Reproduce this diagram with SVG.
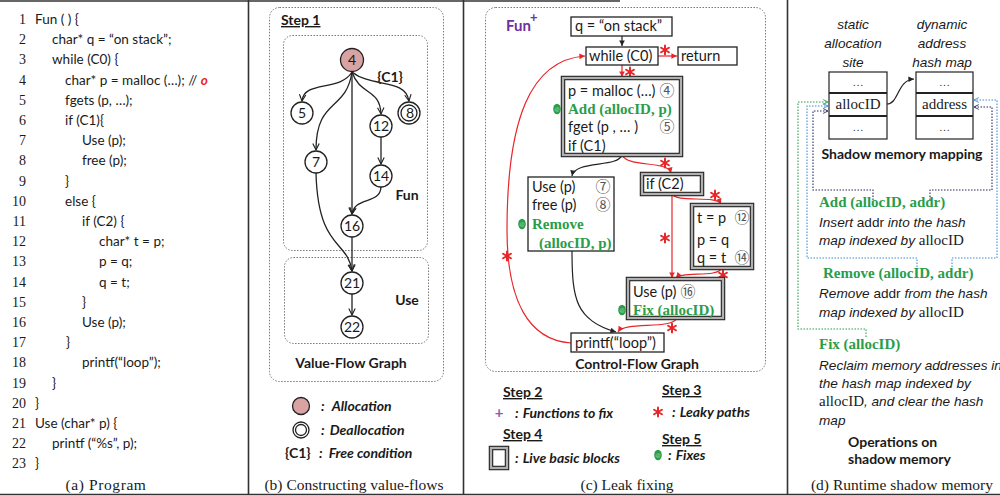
<svg xmlns="http://www.w3.org/2000/svg" width="1000" height="496" viewBox="0 0 1000 496">
  <style>
    .code { font-family: Lato, "Liberation Sans", sans-serif; font-size: 13.5px; fill: #1a1a1a; }
    .num { font-family: "Liberation Serif", serif; font-size: 14px; fill: #1a1a1a; text-anchor: end; }
    .cap { font-family: "Liberation Serif", serif; font-size: 15.5px; fill: #1a1a1a; text-anchor: middle; }
    .b { font-family: Lato, "Liberation Sans", sans-serif; font-size: 14px; font-weight: bold; fill: #1a1a1a; }
    .bi { font-family: Lato, "Liberation Sans", sans-serif; font-size: 14px; font-weight: bold; font-style: italic; fill: #1a1a1a; }
    .step { text-decoration: underline; }
    .t { font-family: Lato, "Liberation Sans", sans-serif; font-size: 14.5px; fill: #1a1a1a; }
    .it { font-family: "Liberation Sans", Arial, sans-serif; font-size: 13.6px; font-style: italic; fill: #1a1a1a; }
    .up { font-style: normal; }
    .ser { font-family: "Liberation Serif", serif; font-style: normal; font-size: 15px; }
    .g { font-family: "Liberation Serif", serif; font-size: 15px; font-weight: bold; fill: #2a9d4a; }
    .cn { font-family: "Liberation Serif", "Noto Sans CJK SC", serif; font-size: 15px; fill: #555; text-anchor: middle; }
    .nl { font-family: Lato, "Liberation Sans", sans-serif; font-size: 14px; fill: #1a1a1a; text-anchor: middle; }
    .node { fill: #fff; stroke: #222; stroke-width: 1.3; }
    .alloc { fill: #d9a3a3; }
    .vf { fill: none; stroke: #222; stroke-width: 1.3; marker-end: url(#vee); }
    .frame { stroke: #333; stroke-width: 1.6; fill: none; }
    .dot { fill: none; stroke: #777; stroke-width: 1; stroke-dasharray: 1.5 1.5; }
    .box { fill: #fff; stroke: #222; stroke-width: 1.3; }
    .live { fill: #fff; stroke: #222; stroke-width: 4.5; }
    .live2 { fill: none; stroke: #b0b0b0; stroke-width: 2.3; }
    .cf { fill: none; stroke: #222; stroke-width: 1.2; marker-end: url(#blk); }
    .lk { fill: none; stroke: #e8262a; stroke-width: 1.2; marker-end: url(#red); }
    .tbl { fill: #fff; stroke: #222; stroke-width: 1.2; }
    .rule { stroke: #222; stroke-width: 2; }
    .dots { font-family: "Liberation Serif", serif; font-size: 11px; fill: #333; text-anchor: middle; }
    .op { fill: none; stroke-width: 1.1; stroke-dasharray: 1.5 1.5; }
  </style>
  <defs>
    <marker id="vee" viewBox="0 0 10 10" refX="9" refY="5" markerWidth="8" markerHeight="8" markerUnits="userSpaceOnUse" orient="auto">
      <path d="M1,1 L9,5 L1,9" fill="none" stroke="#222" stroke-width="1.4"/>
    </marker>
    <marker id="blk" viewBox="0 0 10 10" refX="9" refY="5" markerWidth="7" markerHeight="7" markerUnits="userSpaceOnUse" orient="auto">
      <path d="M1,1 L9,5 L1,9 Z" fill="#222"/>
    </marker>
    <marker id="red" viewBox="0 0 10 10" refX="9" refY="5" markerWidth="7" markerHeight="7" markerUnits="userSpaceOnUse" orient="auto">
      <path d="M1,1 L9,5 L1,9 Z" fill="#e8262a"/>
    </marker>
    <marker id="navy" viewBox="0 0 10 10" refX="9" refY="5" markerWidth="6" markerHeight="6" markerUnits="userSpaceOnUse" orient="auto">
      <path d="M1,1 L9,5 L1,9" fill="none" stroke="#2b2b5e" stroke-width="1.5"/>
    </marker>
    <marker id="blue" viewBox="0 0 10 10" refX="9" refY="5" markerWidth="6" markerHeight="6" markerUnits="userSpaceOnUse" orient="auto">
      <path d="M1,1 L9,5 L1,9" fill="none" stroke="#3a8fd8" stroke-width="1.5"/>
    </marker>
    <marker id="green" viewBox="0 0 10 10" refX="9" refY="5" markerWidth="6" markerHeight="6" markerUnits="userSpaceOnUse" orient="auto">
      <path d="M1,1 L9,5 L1,9" fill="none" stroke="#2a9d4a" stroke-width="1.5"/>
    </marker>
    <!-- leaky-path star marker -->
    <g id="star" stroke="#e8262a" stroke-width="2" stroke-linecap="round">
      <line x1="0" y1="-4.5" x2="0" y2="4.5"/>
      <line x1="-3.9" y1="-2.25" x2="3.9" y2="2.25"/>
      <line x1="-3.9" y1="2.25" x2="3.9" y2="-2.25"/>
    </g>
    <!-- fix-site badge -->
    <g id="fix">
      <ellipse cx="0" cy="0" rx="3.8" ry="5.2" fill="#2a9d4a"/>
      <text x="0" y="2.3" font-family="Lato, sans-serif" font-size="6.5" fill="#9fdcaf" text-anchor="middle">@</text>
    </g>
  </defs>

  <!-- panel frame -->
  <g id="frame">
    <line class="frame" x1="0" y1="1" x2="620" y2="1"/>
    <line class="frame" x1="0" y1="494.5" x2="1000" y2="494.5"/>
    <line class="frame" x1="248.5" y1="0" x2="248.5" y2="495"/>
    <line class="frame" x1="463.5" y1="0" x2="463.5" y2="495"/>
    <line class="frame" x1="787.5" y1="0" x2="787.5" y2="495"/>
  </g>

  <!-- (a) program listing -->
  <g id="program">
    <g id="line-numbers">
      <text class="num" x="26" y="24">1</text>
      <text class="num" x="26" y="44.2">2</text>
      <text class="num" x="26" y="64.4">3</text>
      <text class="num" x="26" y="84.6">4</text>
      <text class="num" x="26" y="104.8">5</text>
      <text class="num" x="26" y="125">6</text>
      <text class="num" x="26" y="145.2">7</text>
      <text class="num" x="26" y="165.4">8</text>
      <text class="num" x="26" y="185.6">9</text>
      <text class="num" x="26" y="205.8">10</text>
      <text class="num" x="26" y="226">11</text>
      <text class="num" x="26" y="246.2">12</text>
      <text class="num" x="26" y="266.4">13</text>
      <text class="num" x="26" y="286.6">14</text>
      <text class="num" x="26" y="306.8">15</text>
      <text class="num" x="26" y="327">16</text>
      <text class="num" x="26" y="347.2">17</text>
      <text class="num" x="26" y="367.4">18</text>
      <text class="num" x="26" y="387.6">19</text>
      <text class="num" x="26" y="407.8">20</text>
      <text class="num" x="26" y="428">21</text>
      <text class="num" x="26" y="448.2">22</text>
      <text class="num" x="26" y="468.4">23</text>
    </g>
    <g id="code">
      <text class="code" x="35" y="24">Fun ( ) {</text>
      <text class="code" x="52" y="44.2">char* q = “on stack”;</text>
      <text class="code" x="52" y="64.4">while (C0) {</text>
      <text class="code" x="65" y="84.6">char* p = malloc (…); // <tspan fill="#e8262a" font-weight="bold" font-style="italic">o</tspan></text>
      <text class="code" x="65" y="104.8">fgets (p, …);</text>
      <text class="code" x="65" y="125">if (C1){</text>
      <text class="code" x="82" y="145.2">Use (p);</text>
      <text class="code" x="82" y="165.4">free (p);</text>
      <text class="code" x="65" y="185.6">}</text>
      <text class="code" x="65" y="205.8">else {</text>
      <text class="code" x="82" y="226">if (C2) {</text>
      <text class="code" x="99" y="246.2">char* t = p;</text>
      <text class="code" x="99" y="266.4">p = q;</text>
      <text class="code" x="99" y="286.6">q = t;</text>
      <text class="code" x="82" y="306.8">}</text>
      <text class="code" x="82" y="327">Use (p);</text>
      <text class="code" x="66" y="347.2">}</text>
      <text class="code" x="82" y="367.4">printf(“loop”);</text>
      <text class="code" x="52" y="387.6">}</text>
      <text class="code" x="35" y="407.8">}</text>
      <text class="code" x="35" y="428">Use (char* p) {</text>
      <text class="code" x="52" y="448.2">printf (“%s”, p);</text>
      <text class="code" x="35" y="468.4">}</text>
    </g>
    <text class="cap" x="106" y="490" font-size="18" letter-spacing="0.6">(a) Program</text>
  </g>

  <!-- (b) value-flow graph -->
  <g id="vfg">
    <rect class="dot" x="269.5" y="7.5" width="174" height="374" rx="10"/>
    <rect class="dot" x="283.5" y="35.5" width="144" height="215" rx="9"/>
    <rect class="dot" x="284.5" y="257.5" width="144" height="86" rx="9"/>
    <text class="b step" x="281" y="25">Step 1</text>
    <text class="b" x="390" y="82" text-anchor="middle">{C1}</text>
    <text class="b" x="407" y="200" text-anchor="middle">Fun</text>
    <text class="b" x="407" y="305" text-anchor="middle">Use</text>
    <text class="b" x="351" y="368" text-anchor="middle">Value-Flow Graph</text>

    <g id="vf-edges">
      <path class="vf" d="M352,72 C340,92 304,80 302,101"/>
      <path class="vf" d="M352,72 C346,112 316,98 316,150"/>
      <path class="vf" d="M352,72 L352,214"/>
      <path class="vf" d="M352,72 C360,96 380,88 381,114"/>
      <path class="vf" d="M352,72 C372,88 405,78 409,101"/>
      <path class="vf" d="M381,137 L381,164"/>
      <path class="vf" d="M381,187 C380,205 355,196 352,214"/>
      <path class="vf" d="M316,173 C318,250 348,240 352,271"/>
      <path class="vf" d="M352,237 L352,271"/>
      <path class="vf" d="M352,294 L352,315"/>
    </g>

    <g id="v4"><circle class="node alloc" cx="352" cy="60" r="11.5"/><text class="nl" x="352" y="65">4</text></g>
    <g id="v5"><circle class="node" cx="302" cy="113" r="11"/><text class="nl" x="302" y="118">5</text></g>
    <g id="v8"><circle class="node" cx="409" cy="113" r="11"/><circle class="node" cx="409" cy="113" r="8"/><text class="nl" x="410" y="118">8</text></g>
    <g id="v12"><circle class="node" cx="381" cy="126" r="11"/><text class="nl" x="381" y="131">12</text></g>
    <g id="v7"><circle class="node" cx="316" cy="162" r="11"/><text class="nl" x="316" y="167">7</text></g>
    <g id="v14"><circle class="node" cx="381" cy="176" r="11"/><text class="nl" x="381" y="181">14</text></g>
    <g id="v16"><circle class="node" cx="352" cy="226" r="11"/><text class="nl" x="352" y="231">16</text></g>
    <g id="v21"><circle class="node" cx="352" cy="283" r="11"/><text class="nl" x="352" y="288">21</text></g>
    <g id="v22"><circle class="node" cx="352" cy="327" r="11"/><text class="nl" x="352" y="332">22</text></g>

    <g id="vfg-legend">
      <circle class="node alloc" cx="301" cy="406" r="8.5"/>
      <text class="bi" x="321" y="411">:<tspan dx="7">Allocation</tspan></text>
      <circle class="node" cx="301" cy="430" r="8"/>
      <circle class="node" cx="301" cy="430" r="5.5"/>
      <text class="bi" x="321" y="435">:<tspan dx="5">Deallocation</tspan></text>
      <text class="b" x="285" y="458">{C1}</text>
      <text class="bi" x="319" y="458">:<tspan dx="6">Free condition</tspan></text>
    </g>
    <text class="cap" x="354" y="490">(b) Constructing value-flows</text>
  </g>

  <!-- (c) control-flow graph -->
  <g id="cfg">
    <rect class="dot" x="485.5" y="7.5" width="280" height="364" rx="10"/>
    <text x="506" y="31" font-family="Lato, sans-serif" font-size="15" font-weight="bold" fill="#7030a0">Fun</text>
    <text x="530" y="22" font-family="Lato, sans-serif" font-size="13" font-weight="bold" fill="#7030a0">+</text>
    <text class="b" x="637" y="369" text-anchor="middle">Control-Flow Graph</text>

    <g id="cf-edges">
      <path class="cf" d="M622,36 L622,46"/>
      <path class="lk" d="M658,56 L677,56"/>
      <path class="lk" d="M622,65 L622,77"/>
      <path class="cf" d="M622,155 C618,168 575,160 572,176"/>
      <path class="lk" d="M622,155 C628,168 668,160 671,173"/>
      <path class="lk" d="M672,194 C676,203 717,195 721,204"/>
      <path class="lk" d="M672,194 L672,278"/>
      <path class="lk" d="M722,268 C718,278 682,271 676,278"/>
      <path class="lk" d="M677,318 C672,330 625,321 618,332"/>
      <path class="cf" d="M572,251 C572,300 576,320 616,332"/>
      <path class="lk" d="M571,343 C528,340 507,300 507,230 C507,120 530,60 585,56"/>
      <use href="#star" x="665" y="50"/>
      <use href="#star" x="630" y="72"/>
      <use href="#star" x="665" y="163"/>
      <use href="#star" x="715" y="195"/>
      <use href="#star" x="665" y="238"/>
      <use href="#star" x="723" y="275"/>
      <use href="#star" x="672" y="328"/>
      <use href="#star" x="507" y="256"/>
    </g>

    <g id="b-q"><rect class="box" x="571" y="17" width="101" height="19"/><text class="t" x="575" y="31">q = “on stack”</text></g>
    <g id="b-while"><rect class="box" x="586" y="47" width="72" height="18"/><text class="t" x="589" y="61">while (C0)</text></g>
    <g id="b-return"><rect class="box" x="678" y="47" width="59" height="18"/><text class="t" x="681" y="61">return</text></g>
    <g id="b-malloc">
      <rect class="live" x="563" y="78" width="118" height="77"/>
      <rect class="live2" x="563" y="78" width="118" height="77"/>
      <text class="t" x="568" y="96">p = malloc (…)</text>
      <text class="cn" x="667" y="96">④</text>
      <use href="#fix" x="557" y="109"/>
      <text class="g" x="568" y="114">Add (allocID, p)</text>
      <text class="t" x="568" y="132">fget (p , … )</text>
      <text class="cn" x="667" y="132">⑤</text>
      <text class="t" x="568" y="151">if (C1)</text>
    </g>
    <g id="b-use-free">
      <rect class="box" x="528" y="177" width="86" height="74"/>
      <text class="t" x="532" y="192">Use (p)</text>
      <text class="cn" x="603" y="192">⑦</text>
      <text class="t" x="532" y="210">free (p)</text>
      <text class="cn" x="603" y="210">⑧</text>
      <use href="#fix" x="522" y="224"/>
      <text class="g" x="532" y="229">Remove</text>
      <text class="g" x="539" y="248">(allocID, p)</text>
    </g>
    <g id="b-if-c2">
      <rect class="live" x="642" y="174" width="60" height="20"/>
      <rect class="live2" x="642" y="174" width="60" height="20"/>
      <text class="t" x="646" y="189">if (C2)</text>
    </g>
    <g id="b-swap">
      <rect class="live" x="692" y="205" width="60" height="63"/>
      <rect class="live2" x="692" y="205" width="60" height="63"/>
      <text class="t" x="697" y="223">t = p</text>
      <text class="cn" x="742" y="223">⑫</text>
      <text class="t" x="697" y="245">p = q</text>
      <text class="t" x="697" y="263">q = t</text>
      <text class="cn" x="742" y="263">⑭</text>
    </g>
    <g id="b-use16">
      <rect class="live" x="628" y="279" width="95" height="39"/>
      <rect class="live2" x="628" y="279" width="95" height="39"/>
      <text class="t" x="633" y="297">Use (p)</text>
      <text class="cn" x="688" y="297">⑯</text>
      <use href="#fix" x="622" y="310"/>
      <text class="g" x="633" y="315">Fix (allocID)</text>
    </g>
    <g id="b-printf"><rect class="box" x="571" y="333" width="93" height="19"/><text class="t" x="575" y="348">printf(“loop”)</text></g>

    <g id="cfg-legend">
      <text class="b step" x="503" y="397">Step 2</text>
      <text x="499" y="418" font-family="Lato, sans-serif" font-size="15" font-weight="bold" fill="#7f5fb0" text-anchor="middle">+</text>
      <text class="bi" x="515" y="418">:<tspan dx="4">Functions to fix</tspan></text>
      <text class="b step" x="503" y="439">Step 4</text>
      <rect class="live" x="491" y="448" width="16" height="20"/>
      <rect class="live2" x="491" y="448" width="16" height="20"/>
      <text class="bi" x="515" y="463">:<tspan dx="4">Live basic blocks</tspan></text>
      <text class="b step" x="662" y="395">Step 3</text>
      <use href="#star" x="658" y="412"/>
      <text class="bi" x="672" y="417">:<tspan dx="4">Leaky paths</tspan></text>
      <text class="b step" x="662" y="444">Step 5</text>
      <use href="#fix" x="658" y="455"/>
      <text class="bi" x="668" y="460">:<tspan dx="4">Fixes</tspan></text>
    </g>
    <text class="cap" x="627" y="490">(c) Leak fixing</text>
  </g>

  <!-- (d) shadow memory -->
  <g id="shadow">
    <g id="site-label">
      <text class="it" x="853" y="29" text-anchor="middle">static</text>
      <text class="it" x="853" y="48" text-anchor="middle">allocation</text>
      <text class="it" x="853" y="67" text-anchor="middle">site</text>
    </g>
    <g id="map-label">
      <text class="it" x="942" y="29" text-anchor="middle">dynamic</text>
      <text class="it" x="942" y="48" text-anchor="middle">address</text>
      <text class="it" x="942" y="67" text-anchor="middle">hash map</text>
    </g>
    <g id="site-table">
      <rect class="tbl" x="829" y="72" width="58" height="67"/>
      <line class="rule" x1="829" y1="93" x2="887" y2="93"/>
      <line class="rule" x1="829" y1="116" x2="887" y2="116"/>
      <text class="dots" x="858" y="86">…</text>
      <text class="ser" x="858" y="109" text-anchor="middle" fill="#1a1a1a">allocID</text>
      <text class="dots" x="858" y="131">…</text>
    </g>
    <g id="map-table">
      <rect class="tbl" x="916" y="72" width="57" height="67"/>
      <line class="rule" x1="916" y1="93" x2="973" y2="93"/>
      <line class="rule" x1="916" y1="116" x2="973" y2="116"/>
      <text class="dots" x="944.5" y="86">…</text>
      <text class="ser" x="944.5" y="109" text-anchor="middle" fill="#1a1a1a">address</text>
      <text class="dots" x="944.5" y="131">…</text>
    </g>
    <text class="b" x="902" y="159" text-anchor="middle">Shadow memory mapping</text>

    <g id="op-links">
      <path d="M887,104 C899,104 897,80 914,79" fill="none" stroke="#222" stroke-width="1.2" marker-end="url(#blk)"/>
      <path class="op" stroke="#2b2b5e" marker-end="url(#navy)" d="M873,200 V190 H813 V111 H828"/>
      <path class="op" stroke="#2b2b5e" marker-end="url(#navy)" d="M930,200 V190 H992 V107 H974"/>
      <path class="op" stroke="#3a8fd8" marker-end="url(#blue)" d="M917,267 V258 H807 V106 H828"/>
      <path class="op" stroke="#3a8fd8" marker-end="url(#blue)" d="M952,267 V258 H997 V100 H974"/>
      <path class="op" stroke="#2a9d4a" marker-end="url(#green)" d="M866,337 V329 H798 V102 H828"/>
    </g>

    <g id="op-add">
      <text class="g" x="819" y="207">Add (allocID, addr)</text>
      <text class="it" x="819" y="227">Insert <tspan class="up">addr</tspan> into the hash</text>
      <text class="it" x="819" y="245">map indexed by <tspan class="ser">allocID</tspan></text>
    </g>
    <g id="op-remove">
      <text class="g" x="823" y="278">Remove (allocID, addr)</text>
      <text class="it" x="819" y="298">Remove <tspan class="up">addr</tspan> from the hash</text>
      <text class="it" x="819" y="317">map indexed by <tspan class="ser">allocID</tspan></text>
    </g>
    <g id="op-fix">
      <text class="g" x="819" y="349">Fix (allocID)</text>
      <text class="it" x="819" y="370">Reclaim memory addresses in</text>
      <text class="it" x="819" y="388">the hash map indexed by</text>
      <text class="it" x="819" y="406"><tspan class="ser">allocID</tspan>, and clear the hash</text>
      <text class="it" x="819" y="425">map</text>
    </g>
    <text class="b" x="848" y="447">Operations on</text>
    <text class="b" x="848" y="464">shadow memory</text>
    <text class="cap" x="902" y="490">(d) Runtime shadow memory</text>
  </g>
</svg>
